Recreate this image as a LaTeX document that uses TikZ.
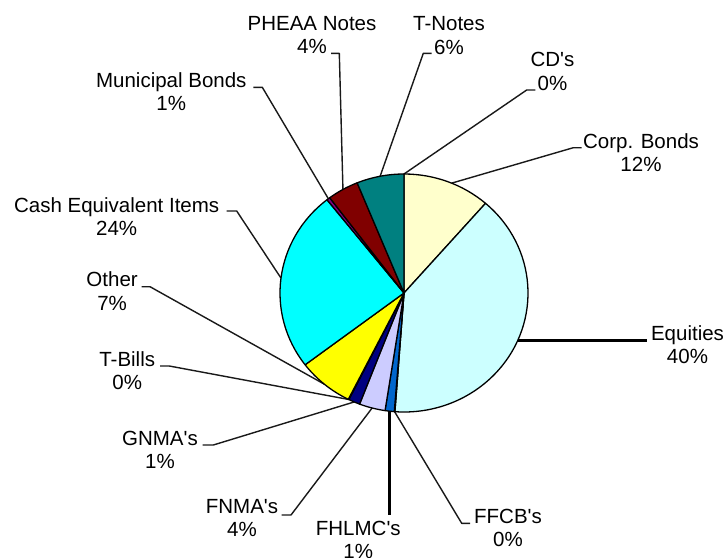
\documentclass[tikz,border=0pt]{standalone}
\usepackage{fontspec}
\setmainfont{Liberation Sans}
\usetikzlibrary{calc}
\newcommand{\twoline}[2]{\begin{tabular}[t]{@{}c@{}}#1\\#2\end{tabular}}
\newcommand{\apos}{\textquotesingle}
\definecolor{cCorp}{HTML}{FFFFCC}
\definecolor{cEq}{HTML}{CCFFFF}
\definecolor{cFH}{HTML}{0066CC}
\definecolor{cFN}{HTML}{CCCCFF}
\definecolor{cGN}{HTML}{000080}
\definecolor{cOther}{HTML}{FFFF00}
\definecolor{cCash}{HTML}{00FFFF}
\definecolor{cMuni}{HTML}{800080}
\definecolor{cPH}{HTML}{800000}
\definecolor{cTN}{HTML}{008080}
\begin{document}
\begin{tikzpicture}[x=1pt,y=-1pt,
  lbl/.style={font=\fontsize{20.5}{23.5}\selectfont, inner sep=0pt, anchor=base},
  lead/.style={line width=1.4pt, black!90, line join=round},
  leadbold/.style={line width=2.8pt, black},
  wedge/.style={draw=black, line width=1.3pt, line join=round}]
\useasboundingbox (0,0) rectangle (727,557);
\fill[white] (0,0) rectangle (727,557);
\coordinate (c) at (404,293);
% pie edge points for leaders (parametric angle, clockwise from east)
\coordinate (pCorp) at ($(c)+({124*cos(-67.4)},{119*sin(-67.4)})$);
\coordinate (pEq) at ($(c)+({124*cos(23.5)},{119*sin(23.5)})$);
\coordinate (pFF) at ($(c)+({124*cos(94.35)},{119*sin(94.35)})$);
\coordinate (pFH) at ($(c)+({124*cos(96.65)},{119*sin(96.65)})$);
\coordinate (pFN) at ($(c)+({124*cos(104.9)},{119*sin(104.9)})$);
\coordinate (pGN) at ($(c)+({124*cos(113.7)},{119*sin(113.7)})$);
\coordinate (pTB) at ($(c)+({124*cos(116.55)},{119*sin(116.55)})$);
\coordinate (pOther) at ($(c)+({124*cos(130)},{119*sin(130)})$);
\coordinate (pCash) at ($(c)+({124*cos(187.2)},{119*sin(187.2)})$);
\coordinate (pMuni) at ($(c)+({124*cos(232.4)},{119*sin(232.4)})$);
\coordinate (pPH) at ($(c)+({124*cos(240.5)},{119*sin(240.5)})$);
\coordinate (pTN) at ($(c)+({124*cos(258.9)},{119*sin(258.9)})$);
\coordinate (pCD) at ($(c)+({124*cos(270)},{119*sin(270)})$);
% labels
\node[lbl] (lPH) at (312,30) {\twoline{PHEAA Notes}{4\%}};
\node[lbl] (lTN) at (449,30.5) {\twoline{T-Notes}{6\%}};
\node[lbl] (lCD) at (552.5,66.7) {\twoline{CD\apos s}{0\%}};
\node[lbl] (lMuni) at (171.3,87.3) {\twoline{Municipal Bonds}{1\%}};
\node[lbl] (lCorp) at (641,148.3) {\twoline{Corp. Bonds}{12\%}};
\node[lbl] (lCash) at (116.7,212.3) {\twoline{Cash Equivalent Items}{24\%}};
\node[lbl] (lOther) at (112.1,286.7) {\twoline{Other}{7\%}};
\node[lbl] (lTB) at (127.2,366) {\twoline{T-Bills}{0\%}};
\node[lbl] (lGN) at (160,445) {\twoline{GNMA\apos s}{1\%}};
\node[lbl] (lFN) at (242,513.3) {\twoline{FNMA\apos s}{4\%}};
\node[lbl] (lFH) at (358.3,535) {\twoline{FHLMC\apos s}{1\%}};
\node[lbl] (lFF) at (508,523.3) {\twoline{FFCB\apos s}{0\%}};
\node[lbl] (lEq) at (687.5,340) {\twoline{Equities}{40\%}};
% leader end points
\coordinate (ePH) at (339.3,53.3);   \coordinate (tPH) at (331,53.3);
\coordinate (eTN) at (423.3,53.3);   \coordinate (tTN) at (431.7,53.3);
\coordinate (eCD) at (526.7,90);     \coordinate (tCD) at (535.3,90);
\coordinate (eMuni) at (262.3,87.3); \coordinate (tMuni) at (253.3,87.3);
\coordinate (eCorp) at (573.3,147.7);\coordinate (tCorp) at (581.7,147.7);
\coordinate (eCash) at (236.7,211);  \coordinate (tCash) at (226.7,211);
\coordinate (eOther) at (150,286.7); \coordinate (tOther) at (141.7,286.7);
\coordinate (eTB) at (169.3,366);    \coordinate (tTB) at (160,366);
\coordinate (eGN) at (213.3,445);    \coordinate (tGN) at (202.7,445);
\coordinate (eFN) at (291,515);      \coordinate (tFN) at (281.7,515);
\coordinate (eFF) at (461.7,523.3);  \coordinate (tFF) at (470,523.3);
\coordinate (tEq) at (646.7,340.5);
\coordinate (tFH) at (389.5,515);
% leaders
\draw[lead] (pPH) -- (ePH) -- (tPH);
\draw[lead] (pTN) -- (eTN) -- (tTN);
\draw[lead] (pCD) -- (eCD) -- (tCD);
\draw[lead] (pMuni) -- (eMuni) -- (tMuni);
\draw[lead] (pCorp) -- (eCorp) -- (tCorp);
\draw[lead] (pCash) -- (eCash) -- (tCash);
\draw[lead] (pOther) -- (eOther) -- (tOther);
\draw[lead] (pTB) -- (eTB) -- (tTB);
\draw[lead] (pGN) -- (eGN) -- (tGN);
\draw[lead] (pFN) -- (eFN) -- (tFN);
\draw[lead] (pFF) -- (eFF) -- (tFF);
\draw[leadbold] (pEq) -- (pEq -| tEq);
\draw[leadbold] (pFH) -- (pFH |- tFH);
% pie slices
\foreach \a/\b/\col in {-90/-48.9/cCorp, -48.9/94.2/cEq, 94.2/94.5/cEq, 94.5/98.8/cFH,
   98.8/111/cFN, 111/116.4/cGN, 116.4/116.7/cGN, 116.7/142.9/cOther, 142.9/231.6/cCash,
   231.6/233.2/cMuni, 233.2/247.8/cPH, 247.8/270/cTN}
  \filldraw[wedge, fill=\col] (c) -- ($(c)+({124*cos(\a)},{119*sin(\a)})$)
     arc[start angle=\a, end angle=\b, x radius=124, y radius=119] -- cycle;
\end{tikzpicture}
\end{document}
